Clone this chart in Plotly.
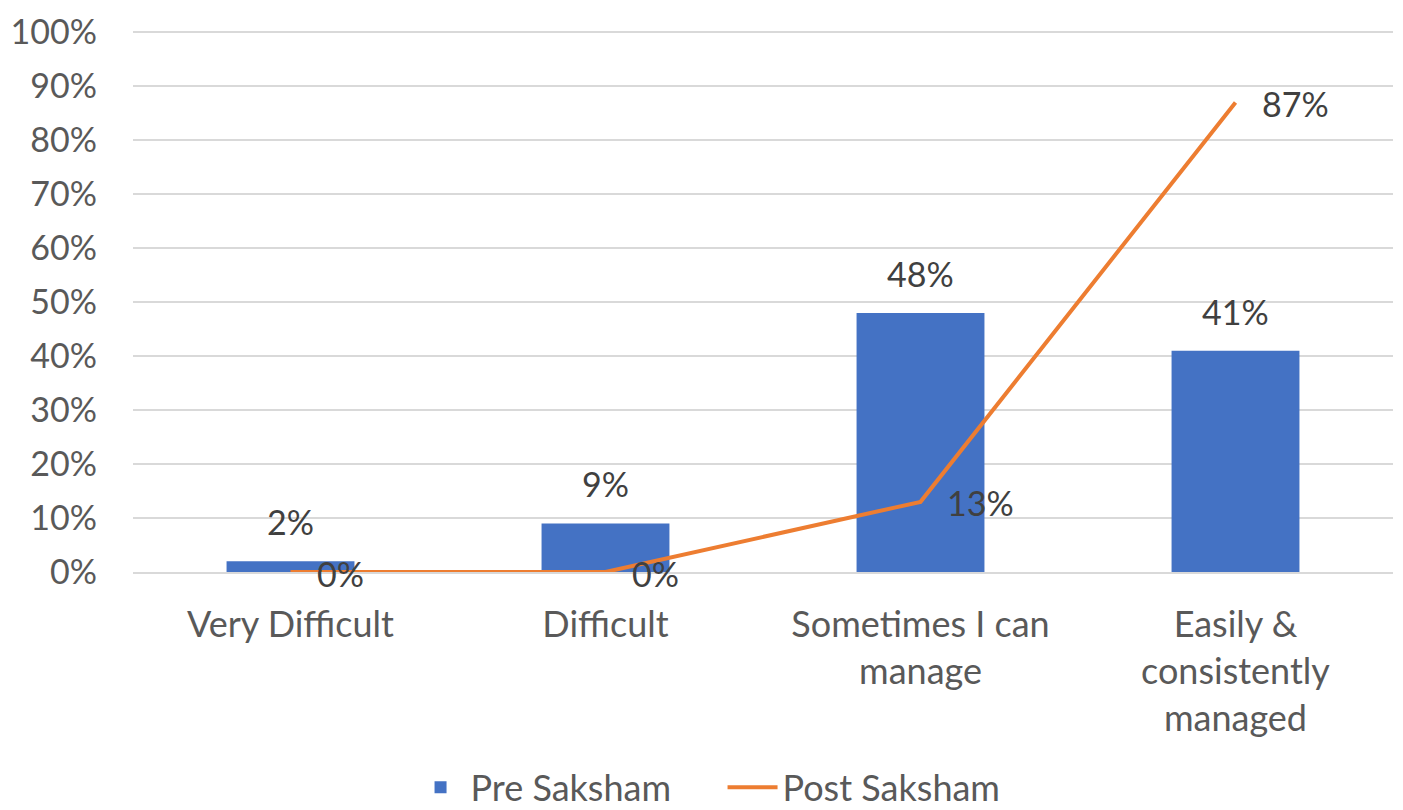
import plotly.graph_objects as go

categories = ["Very Difficult", "Difficult", "Sometimes I can<br>manage", "Easily &<br>consistently<br>managed"]
pre_saksham = [2, 9, 48, 41]
post_saksham = [0, 0, 13, 87]
y_ticks = list(range(0, 101, 10))
y_tick_labels = [f"{v}%" for v in y_ticks]

FONT = "Lato"
TICK_COLOR = "#595959"
LABEL_COLOR = "#404040"
BLUE = "#4472C4"
ORANGE = "#ED7D31"
NUM_SIZE = 34
TEXT_SIZE = 36

fig = go.Figure()

fig.add_trace(go.Bar(
    x=categories,
    y=pre_saksham,
    name="Pre Saksham",
    marker=dict(color=BLUE, line=dict(width=0)),
))

fig.add_trace(go.Scatter(
    x=categories,
    y=post_saksham,
    name="Post Saksham",
    mode="lines",
    line=dict(color=ORANGE, width=4),
    cliponaxis=False,
))

# value labels sitting above each bar
for cat, val in zip(categories, pre_saksham):
    fig.add_annotation(
        x=cat, y=val, text=f"{val}%", showarrow=False,
        yanchor="bottom", yshift=17,
        font=dict(family=FONT, size=NUM_SIZE, color=LABEL_COLOR),
    )

# value labels to the right of each line point
for cat, val in zip(categories, post_saksham):
    fig.add_annotation(
        x=cat, y=val, text=f"{val}%", showarrow=False,
        xanchor="left", yanchor="middle", xshift=24, yshift=-1,
        font=dict(family=FONT, size=NUM_SIZE, color=LABEL_COLOR),
    )

fig.update_layout(
    width=1403, height=810,
    margin=dict(l=133, r=10, t=26, b=238),
    plot_bgcolor="white", paper_bgcolor="white",
    font=dict(family=FONT, size=TEXT_SIZE, color=TICK_COLOR),
    bargap=0.594,
    showlegend=True,
    legend=dict(
        orientation="h",
        xref="container", yref="container",
        x=0.515, xanchor="center",
        y=0.028, yanchor="middle",
        font=dict(family=FONT, size=TEXT_SIZE, color=TICK_COLOR),
        itemwidth=50,
        entrywidth=247,
        traceorder="normal",
    ),
)

fig.update_yaxes(
    range=[0, 100.6],
    tickvals=y_ticks, ticktext=y_tick_labels,
    showgrid=True, gridcolor="#D9D9D9", gridwidth=2,
    zeroline=False, showline=False,
    ticks="", ticklabelstandoff=35,
    tickfont=dict(family=FONT, size=NUM_SIZE, color=TICK_COLOR),
)
fig.update_xaxes(
    showgrid=False, zeroline=False,
    showline=True, linecolor="#D9D9D9", linewidth=2,
    ticks="", ticklabelstandoff=20,
    tickfont=dict(family=FONT, size=TEXT_SIZE, color=TICK_COLOR),
)

fig.write_html("out.html")
